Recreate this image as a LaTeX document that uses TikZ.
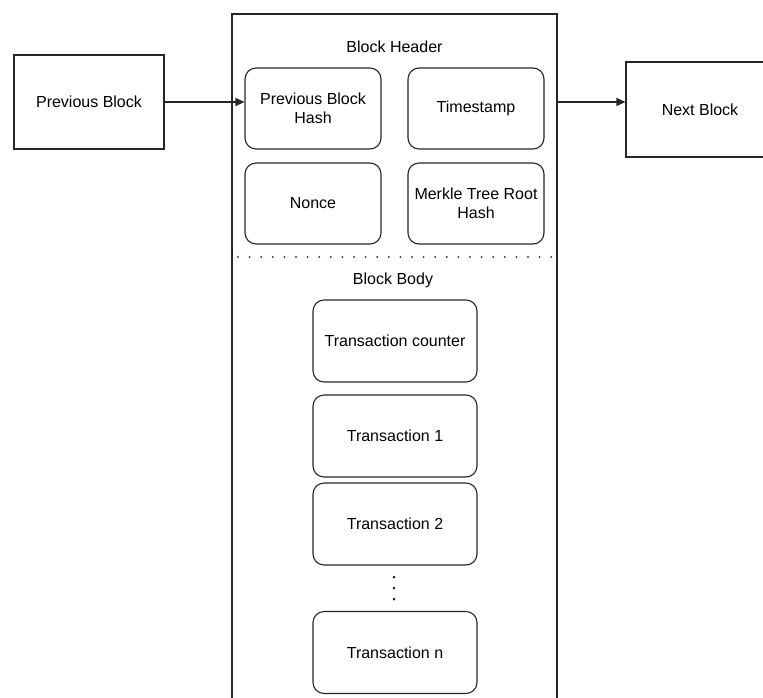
\documentclass[tikz,border=0pt]{standalone}
\usepackage{fontspec}
\setmainfont{Liberation Sans}
\usetikzlibrary{arrows.meta}

\tikzset{
  line/.style={draw=black!85, line width=1.1pt},
  txt/.style={font=\fontsize{16}{19}\selectfont},
  plainbox/.style={line, rectangle, minimum width=150pt, minimum height=94pt,
    align=center, txt, inner sep=0pt},
  field/.style={line, rectangle, rounded corners=11pt, minimum width=136pt,
    minimum height=81pt, align=center, txt, inner sep=0pt},
  txbox/.style={field, minimum width=164pt, minimum height=82pt},
  caption/.style={txt, inner sep=0pt},
  link/.style={line, -{Triangle[length=9pt,width=8pt]}},
  vdot/.style={circle, fill=black!85, inner sep=0pt, minimum size=3pt},
}

\begin{document}
\begin{tikzpicture}[x=1pt, y=-1pt]
\useasboundingbox (0,0) rectangle (763,697);

% chain neighbours
\node[plainbox] (prev) at (89,102) {Previous Block};
\node[plainbox, minimum width=148pt, minimum height=95pt] (next) at (700,109.5) {Next Block};

% the block container (open at the bottom)
\coordinate (bl) at (232,705);
\coordinate (tl) at (232,14);
\coordinate (tr) at (557,14);
\coordinate (br) at (557,705);
\draw[line] (bl) -- (tl) -- (tr) -- (br);
\coordinate (outR) at (557,102);

% header
\node[caption] (hdr) at (394.5,47) {Block Header};
\node[field] (pbh) at (313,108.5) {Previous Block\\Hash};
\node[field] (ts) at (476,108.5) {Timestamp};
\node[field] (nonce) at (313,203.5) {Nonce};
\node[field] (merkle) at (476,203.5) {Merkle Tree Root\\Hash};

% header / body separator
\coordinate (sepL) at (238,257);
\coordinate (sepR) at (552,257);
\draw[line width=2.2pt, black!75, line cap=round, dash pattern=on 0pt off 11.6pt] (sepL) -- (sepR);

% body
\node[caption] (body) at (393,280) {Block Body};
\node[txbox] (cnt) at (395,341) {Transaction counter};
\node[txbox] (t1) at (395,436) {Transaction 1};
\node[txbox] (t2) at (395,524) {Transaction 2};
\node[vdot] (d1) at (394,577) {};
\node[vdot] (d2) at (394,588) {};
\node[vdot] (d3) at (394,599) {};
\node[txbox] (tn) at (395,652.5) {Transaction n};

% links between blocks
\draw[link] (prev.east) -- (prev.east -| pbh.west);
\draw[link] (outR) -- (outR -| next.west);
\end{tikzpicture}
\end{document}
